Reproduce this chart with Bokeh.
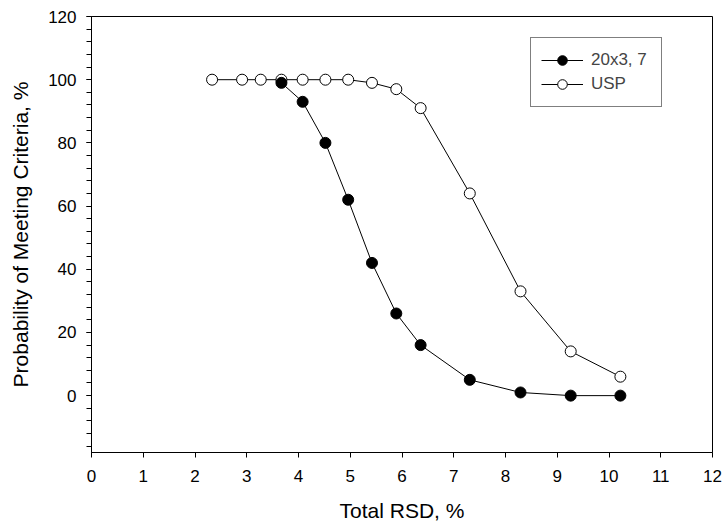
from bokeh.plotting import figure
from bokeh.models import ColumnDataSource, Range1d, SingleIntervalTicker, Legend, LegendItem
from bokeh.embed import file_html
from bokeh.resources import INLINE

# Data
rsd_a = [3.67, 4.08, 4.52, 4.96, 5.42, 5.89, 6.36, 7.31, 8.29, 9.26, 10.22]
prob_a = [99, 93, 80, 62, 42, 26, 16, 5, 1, 0, 0]
rsd_usp = [2.33, 2.91, 3.27, 3.67, 4.08, 4.52, 4.96, 5.42, 5.89, 6.36, 7.31, 8.29, 9.26, 10.22]
prob_usp = [100, 100, 100, 100, 100, 100, 100, 99, 97, 91, 64, 33, 14, 6]
series_names = ["20x3, 7", "USP"]

FONT = "Liberation Sans"

p = figure(width=725, height=527, output_backend="svg", toolbar_location=None,
           x_range=Range1d(0, 12), y_range=Range1d(-18, 120),
           min_border_left=91, min_border_right=13, min_border_top=16, min_border_bottom=75)

p.xgrid.visible = False
p.ygrid.visible = False
p.outline_line_color = "black"
p.outline_line_width = 1
p.background_fill_color = "white"

p.xaxis.ticker = SingleIntervalTicker(interval=1, num_minor_ticks=0)
p.yaxis.ticker = SingleIntervalTicker(interval=20, num_minor_ticks=5)

for ax in (p.xaxis[0], p.yaxis[0]):
    ax.axis_line_color = "black"
    ax.major_tick_line_color = "black"
    ax.minor_tick_line_color = "black"
    ax.major_tick_in = 0
    ax.major_tick_out = 5
    ax.minor_tick_in = 0
    ax.minor_tick_out = 5
    ax.major_label_text_font = FONT
    ax.major_label_text_font_size = "17px"
    ax.major_label_text_color = "black"
    ax.axis_label_text_font = FONT
    ax.axis_label_text_font_size = "21px"
    ax.axis_label_text_font_style = "normal"
    ax.axis_label_text_color = "black"

p.xaxis.axis_label = "Total RSD, %"
p.yaxis.axis_label = "Probability of Meeting Criteria, %"
p.xaxis.major_label_standoff = 12
p.yaxis.major_label_standoff = 10
p.xaxis.axis_label_standoff = 14
p.yaxis.axis_label_standoff = 13

src_a = ColumnDataSource(dict(x=rsd_a, y=prob_a))
src_u = ColumnDataSource(dict(x=rsd_usp, y=prob_usp))

la = p.line("x", "y", source=src_a, line_color="black", line_width=1)
lu = p.line("x", "y", source=src_u, line_color="black", line_width=1)
cu = p.scatter("x", "y", source=src_u, size=11, fill_color="white", line_color="black", line_width=1)
ca = p.scatter("x", "y", source=src_a, size=11, fill_color="black", line_color="black", line_width=1)

legend = Legend(items=[LegendItem(label=series_names[0], renderers=[la, ca]),
                       LegendItem(label=series_names[1], renderers=[lu, cu])],
                location=(439, 345), padding=10, spacing=0, margin=0,
                glyph_width=42, glyph_height=24, label_height=24, label_standoff=8,
                label_width=60,
                label_text_font=FONT, label_text_font_size="17px",
                border_line_color="black", border_line_width=1,
                background_fill_color="white", background_fill_alpha=1)
p.add_layout(legend, "center")

open("out.html", "w").write(file_html(p, INLINE))
